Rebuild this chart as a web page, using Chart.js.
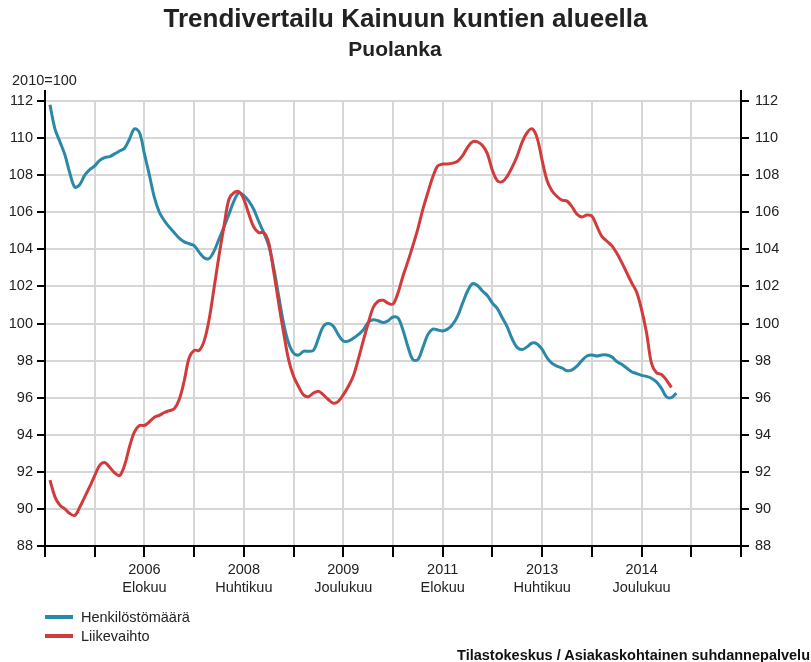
<!DOCTYPE html>
<html lang="fi">
<head>
<meta charset="UTF-8">
<title>Trendivertailu Kainuun kuntien alueella</title>
<script src="https://cdn.jsdelivr.net/npm/chart.js@4.4.0/dist/chart.umd.min.js"></script>
<style>
  body { margin: 0; background: #fff; font-family: "Liberation Sans", Arial, sans-serif; color: #222; }
  #wrap { position: relative; width: 811px; height: 662px; overflow: hidden; }
  #chart { position: absolute; left: 0; top: 0; }
  .txt { position: absolute; white-space: nowrap; }
  #title { left: 0; width: 811px; text-align: center; top: 3px; font-size: 26px; font-weight: bold; line-height: 30px; }
  #subtitle { left: 0; width: 790px; text-align: center; top: 37px; font-size: 21px; font-weight: bold; line-height: 24px; }
  #unit { left: 12px; top: 71px; font-size: 14.5px; line-height: 18px; }
  #legend { left: 45px; top: 608px; font-size: 14.5px; }
  #legend div { height: 19px; line-height: 19px; }
  #legend span.sw { display: inline-block; width: 28px; height: 4px; vertical-align: middle; margin-right: 8px; position: relative; top: -1px; }
  #source { right: 1px; top: 646px; font-size: 14.5px; font-weight: bold; line-height: 18px; color: #111; }
</style>
</head>
<body>
<div id="wrap">
  <canvas id="chart" width="811" height="662"></canvas>
  <div class="txt" id="title">Trendivertailu Kainuun kuntien alueella</div>
  <div class="txt" id="subtitle">Puolanka</div>
  <div class="txt" id="unit">2010=100</div>
  <div class="txt" id="legend"></div>
  <div class="txt" id="source">Tilastokeskus / Asiakaskohtainen suhdannepalvelu</div>
</div>

<script>
// months counted from December 2004 (= 0), both series start January 2005
const seriesNames = ['Henkilöstömäärä', 'Liikevaihto'];
const seriesColors = ['#2a88a8', '#d13b3b'];

const henkilosto = [
  111.8, 110.5, 109.8, 109.1, 108.1, 107.35, 107.5, 108.0, 108.3, 108.5,
  108.8, 108.95, 109.0, 109.15, 109.3, 109.45, 109.95, 110.5, 110.3, 109.15,
  108.0, 106.8, 106.0, 105.55, 105.2, 104.9, 104.6, 104.4, 104.3, 104.2,
  103.85, 103.55, 103.5, 103.9, 104.55, 105.2, 105.9, 106.6, 107.05, 106.9,
  106.6, 106.15, 105.5, 104.9, 104.2, 103.0, 101.5, 100.0, 98.95, 98.4,
  98.3, 98.5, 98.5, 98.55, 99.2, 99.85, 100.0, 99.85, 99.4, 99.05,
  99.05, 99.2, 99.4, 99.65, 100.05, 100.2, 100.15, 100.05, 100.15, 100.35,
  100.3, 99.65, 98.75, 98.05, 98.05, 98.7, 99.4, 99.7, 99.65, 99.6,
  99.7, 99.95, 100.4, 101.1, 101.75, 102.15, 102.05, 101.75, 101.5, 101.1,
  100.8, 100.3, 99.8, 99.15, 98.7, 98.6, 98.75, 98.95, 98.9, 98.6,
  98.15, 97.85, 97.7, 97.6, 97.45, 97.5, 97.7, 98.0, 98.25, 98.3,
  98.25, 98.3, 98.3, 98.2, 97.95, 97.8, 97.6, 97.4, 97.3, 97.2,
  97.15, 97.05, 96.85, 96.5, 96.05, 96.0, 96.25
];

const liikevaihto = [
  91.55, 90.65, 90.2, 90.0, 89.75, 89.65, 90.1, 90.65, 91.2, 91.8,
  92.35, 92.5, 92.25, 91.95, 91.8, 92.35, 93.35, 94.15, 94.5, 94.5,
  94.7, 94.95, 95.05, 95.2, 95.3, 95.4, 95.9, 96.9, 98.15, 98.55,
  98.55, 99.05, 100.2, 101.9, 103.65, 105.25, 106.7, 107.05, 107.1, 106.7,
  105.9, 105.2, 104.9, 104.9, 104.35, 102.8, 101.1, 99.5, 98.05, 97.15,
  96.6, 96.15, 96.05, 96.25, 96.35, 96.15, 95.9, 95.7, 95.8, 96.15,
  96.6, 97.15, 98.05, 99.05, 100.0, 100.85, 101.2, 101.25, 101.1, 101.05,
  101.65, 102.55, 103.35, 104.2, 105.1, 106.15, 107.05, 107.9, 108.5, 108.6,
  108.6, 108.65, 108.75, 109.05, 109.5, 109.8, 109.8, 109.6, 109.15, 108.25,
  107.7, 107.65, 107.95, 108.45, 109.05, 109.8, 110.3, 110.5, 110.0, 108.8,
  107.7, 107.15, 106.85, 106.65, 106.6, 106.3, 105.9, 105.75, 105.85, 105.8,
  105.25, 104.7, 104.45, 104.2, 103.8, 103.3, 102.75, 102.2, 101.7, 100.75,
  99.5, 97.85, 97.35, 97.25, 96.95, 96.55
];

// labelled x ticks (month index from Dec 2004)
const tickMonths = [20, 40, 60, 80, 100, 120];
const tickYears = ['2006', '2008', '2009', '2011', '2013', '2014'];
const tickNames = ['Elokuu', 'Huhtikuu', 'Joulukuu', 'Elokuu', 'Huhtikuu', 'Joulukuu'];

const yTicks = [88, 90, 92, 94, 96, 98, 100, 102, 104, 106, 108, 110, 112];

const GRID = '#d6d6d6';
const TEXT = '#222';
const FONT = '"Liberation Sans", Arial, sans-serif';

function toPoints(values) {
  return values.map((v, i) => ({ x: i + 1, y: v }));
}

// legend
const legendEl = document.getElementById('legend');
seriesNames.forEach((name, i) => {
  const row = document.createElement('div');
  row.innerHTML = '<span class="sw" style="background:' + seriesColors[i] + '"></span>' + name;
  legendEl.appendChild(row);
});

// left/right axis lines poke a little above the top gridline
const axisTop = {
  id: 'axisTop',
  afterDraw(chart) {
    const { ctx, chartArea } = chart;
    ctx.save();
    ctx.strokeStyle = '#000';
    ctx.lineWidth = 2;
    [chartArea.left, chartArea.right].forEach(x => {
      ctx.beginPath();
      ctx.moveTo(x, chartArea.top - 11);
      ctx.lineTo(x, chartArea.top + 1);
      ctx.stroke();
    });
    ctx.restore();
  }
};

function yAxis(pos, width, onArea) {
  return {
    type: 'linear',
    position: pos,
    min: yTicks[0],
    max: yTicks[yTicks.length - 1],
    afterFit: s => { s.width = width; },
    afterBuildTicks: s => { s.ticks = yTicks.map(v => ({ value: v })); },
    grid: { color: GRID, lineWidth: 2, drawOnChartArea: onArea, tickColor: '#000', tickWidth: 2, tickLength: 8 },
    border: { color: '#000', width: 2 },
    ticks: { color: TEXT, padding: pos === 'left' ? 4 : 6, font: { family: FONT, size: 14.5 } }
  };
}

Chart.defaults.font.family = FONT;

new Chart(document.getElementById('chart'), {
  type: 'line',
  data: {
    datasets: [
      { label: seriesNames[0], data: toPoints(henkilosto), borderColor: seriesColors[0], order: 1 },
      { label: seriesNames[1], data: toPoints(liikevaihto), borderColor: seriesColors[1], order: 0 }
    ]
  },
  options: {
    responsive: false,
    animation: false,
    layout: { padding: { top: 101, left: 0, right: 10, bottom: 70 } },
    elements: {
      line: { borderWidth: 3, tension: 0.35, fill: false },
      point: { radius: 0 }
    },
    plugins: { legend: { display: false }, tooltip: { enabled: false } },
    scales: {
      x: {
        type: 'linear',
        min: 0,
        max: 140,
        afterFit: s => { s.height = 46; },
        grid: { color: GRID, lineWidth: 2, tickColor: '#000', tickWidth: 2, tickLength: 11 },
        border: { color: '#000', width: 2 },
        ticks: {
          stepSize: 10,
          autoSkip: false,
          maxRotation: 0,
          padding: 4,
          color: TEXT,
          font: { family: FONT, size: 14.5, lineHeight: 1.25 },
          callback: v => {
            const i = tickMonths.indexOf(v);
            return i < 0 ? '' : [tickYears[i], tickNames[i]];
          }
        }
      },
      y: yAxis('left', 45, true),
      y2: yAxis('right', 60, false)
    }
  },
  plugins: [axisTop]
});
</script>
</body>
</html>
